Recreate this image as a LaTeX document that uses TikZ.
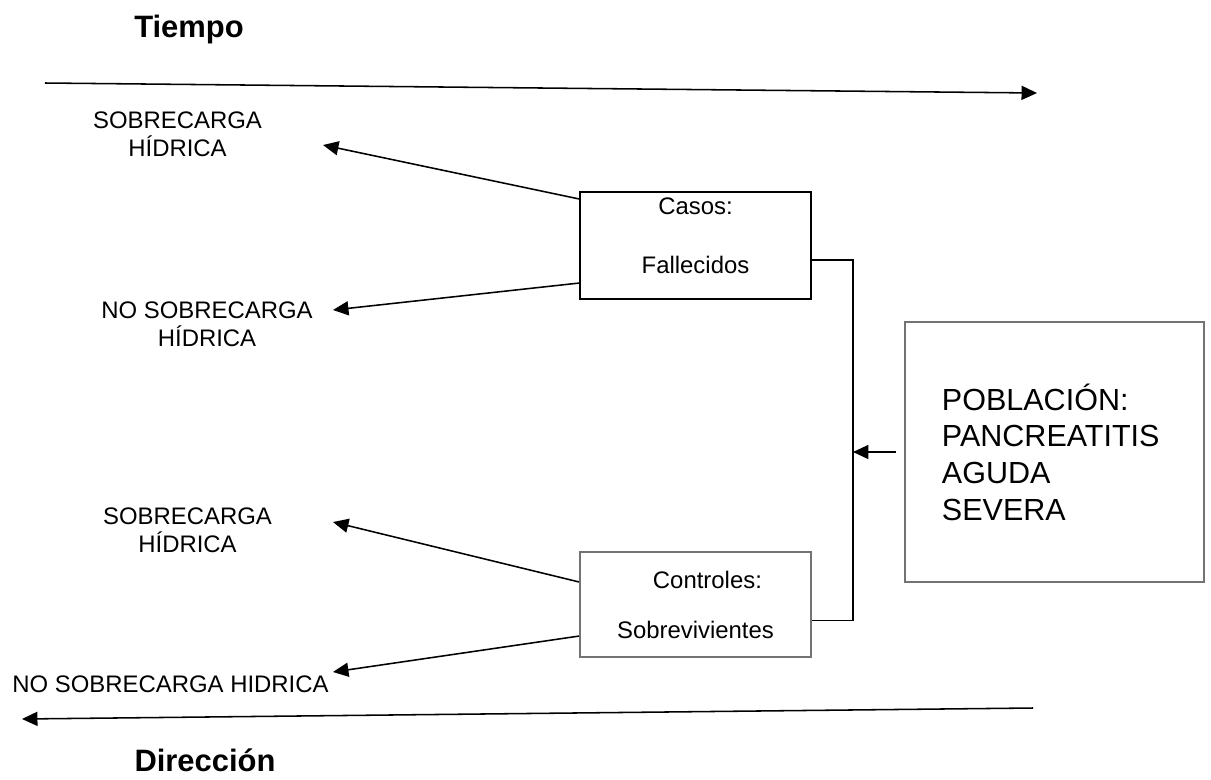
\documentclass[tikz,border=0pt]{standalone}
\usepackage{fontspec}
\setmainfont{Liberation Sans}
\usetikzlibrary{arrows.meta, positioning, calc}

\begin{document}
\begin{tikzpicture}[x=0.025cm,y=-0.025cm]
        \tikzset{
          caja/.style={
            draw,line width=1.5pt,align=center,
            font=\fontsize{17}{20}\selectfont,text=black,
            minimum width=5.775cm,inner sep=0pt,
          },
          caja gris/.style={caja,draw=black!55},
          etiqueta/.style={
            align=center,font=\fontsize{17}{20}\selectfont,
          },
          titulo/.style={font=\fontsize{22}{26}\selectfont\bfseries},
          linea/.style={line width=1.1pt},
          flecha/.style={
            linea,-{Triangle[length=11pt,width=10pt]},
          },
          }
        \useasboundingbox (0,0) rectangle (1211,779);
        \node[titulo, anchor=base] (t) at (189,37) {Tiempo};
        \node[titulo, anchor=base] (u) at (205,771) {Dirección};
        \node[caja, minimum height=2.675cm] (a) at (695.5,245.5) {Casos:\\[21.3pt]Fallecidos\rule[-14pt]{0pt}{0pt}};
        \node[caja gris, minimum height=2.625cm] (b) at (695.5,604.5) {\hspace*{17pt}Controles:\\[15.6pt]Sobrevivientes};
        \node[caja gris, align=left, font=\fontsize{21.7}{26.1}\selectfont,
          text width=5.625cm, inner xsep=0.925cm, minimum height=6.5cm] (c) at (1054.5,452)
          {POBLACIÓN:\\PANCREATITIS\\AGUDA\\SEVERA};
        \node[etiqueta] (d) at (177.5,134.5) {SOBRECARGA\\HÍDRICA};
        \node[etiqueta] (e) at (207,324) {NO SOBRECARGA\\HÍDRICA};
        \node[etiqueta] (f) at (187.5,530.5) {SOBRECARGA\\HÍDRICA};
        \node[etiqueta, anchor=base] (g) at (170.5,692) {NO SOBRECARGA HIDRICA};

        % ejes del tiempo
        \coordinate (t0) at (45,83);
        \coordinate (t1) at (1037,93);
        \coordinate (u0) at (1033,708);
        \coordinate (u1) at (22,719);
        \draw[flecha] (t0) -- (t1);
        \draw[flecha] (u0) -- (u1);

        % puntas hacia las etiquetas
        \coordinate (p1) at (323,145);
        \coordinate (p2) at (333,310);
        \coordinate (p3) at (333,522);
        \coordinate (p4) at (333,672);
        \draw[flecha] ([yshift=-0.2cm]a.north west) -- (p1);
        \draw[flecha] ([yshift=0.425cm]a.south west) -- (p2);
        \draw[flecha] ([yshift=-0.775cm]b.north west) -- (p3);
        \draw[flecha] ([yshift=0.55cm]b.south west) -- (p4);

        \coordinate (bus) at (853,452);
        \draw[linea] ([yshift=-0.36cm]a.east) -| (bus) |- ([yshift=-0.4cm]b.east);
        \draw[flecha] ([xshift=-0.2cm]c.west) -- (bus);
      \end{tikzpicture}
\end{document}
